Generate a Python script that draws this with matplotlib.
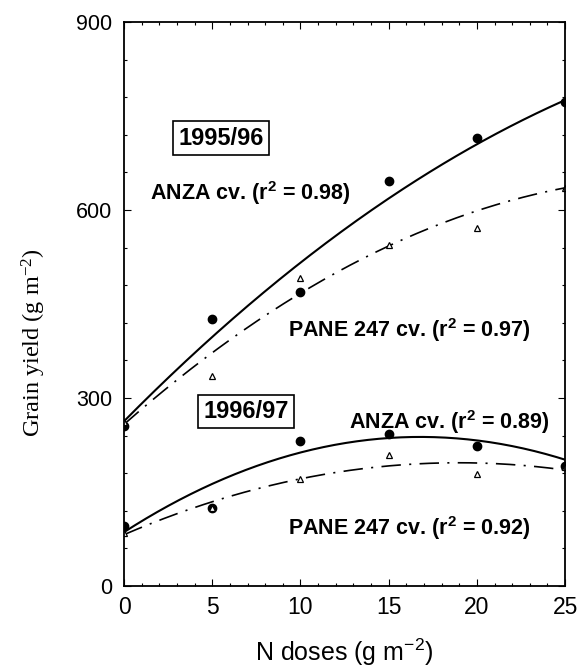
import numpy as np
import matplotlib
matplotlib.use('Agg')
import matplotlib.pyplot as plt
from matplotlib.ticker import MultipleLocator

plt.rcParams['font.family'] = ['Liberation Sans', 'DejaVu Sans']
plt.rcParams['mathtext.default'] = 'regular'
plt.rcParams['lines.scale_dashes'] = False

# N doses (g m-2)
doses = [0, 5, 10, 15, 20, 25]

# grain yield (g m-2)
anza_9596 = [256, 426, 469, 646, 715, 772]
pane_9596 = [262, 335, 492, 545, 571, 635]
anza_9697 = [96, 124, 231, 243, 223, 191]
pane_9697 = [84, 125, 171, 209, 179, 190]

# fitted quadratic curves y = a + b*x + c*x^2 (a, b, c)
fit_anza_9596 = [263, 28.5, -0.32]
fit_pane_9596 = [258, 24.8, -0.388]
fit_anza_9697 = [86, 18.1, -0.539]
fit_pane_9697 = [82, 12.1, -0.319]

labels = ['ANZA cv. (r$^{2}$ = 0.98)', 'PANE 247 cv. (r$^{2}$ = 0.97)',
          'ANZA cv. (r$^{2}$ = 0.89)', 'PANE 247 cv. (r$^{2}$ = 0.92)']

fig = plt.figure(figsize=(5.85, 6.69), dpi=100)
ax = fig.add_axes([0.212, 0.124, 0.754, 0.843])

xs = np.linspace(0, 25, 200)
dashdot = (0, (14, 6, 1.5, 6))


def curve(coef):
    return coef[0] + coef[1] * xs + coef[2] * xs ** 2


# 1995/96
ax.plot(xs, curve(fit_anza_9596), color='black', lw=1.5)
ax.plot(xs, curve(fit_pane_9596), color='black', lw=1.2, linestyle=dashdot)
ax.plot(doses, anza_9596, 'o', color='black', ms=6)
ax.plot(doses, pane_9596, '^', mfc='white', mec='black', ms=4, mew=0.9)

# 1996/97
ax.plot(xs, curve(fit_anza_9697), color='black', lw=1.5)
ax.plot(xs, curve(fit_pane_9697), color='black', lw=1.2, linestyle=dashdot)
ax.plot(doses, anza_9697, 'o', color='black', ms=6)
ax.plot(doses, pane_9697, '^', mfc='white', mec='black', ms=4, mew=0.9)

box = dict(boxstyle='square,pad=0.22', fc='white', ec='black', lw=1.2)
ax.text(5.5, 715, '1995/96', fontsize=17, fontweight='bold', ha='center', va='center', bbox=box)
ax.text(6.9, 279, '1996/97', fontsize=17, fontweight='bold', ha='center', va='center', bbox=box)

ax.text(1.5, 627, labels[0], fontsize=15.5, fontweight='bold', va='center')
ax.text(9.3, 408, labels[1], fontsize=15.5, fontweight='bold', va='center')
ax.text(12.75, 262, labels[2], fontsize=15.5, fontweight='bold', va='center')
ax.text(9.3, 92, labels[3], fontsize=15.5, fontweight='bold', va='center')

ax.set_xlim(0, 25)
ax.set_ylim(0, 900)
ax.xaxis.set_major_locator(MultipleLocator(5))
ax.xaxis.set_minor_locator(MultipleLocator(1))
ax.yaxis.set_major_locator(MultipleLocator(300))
ax.yaxis.set_minor_locator(MultipleLocator(60))
ax.tick_params(which='both', direction='in', top=True, right=True, width=0.8)
ax.tick_params(which='major', length=5)
ax.tick_params(which='minor', length=2.5)
ax.tick_params(axis='x', labelsize=16.5, pad=7.5)
ax.tick_params(axis='y', labelsize=15.5, pad=8.5)
for s in ax.spines.values():
    s.set_linewidth(1.3)

ax.set_xlabel('N doses (g m$^{-2}$)', fontsize=18, labelpad=12)
ax.set_ylabel('Grain yield (g m$^{-2}$)', fontsize=17.5, family='Liberation Serif')
ax.yaxis.set_label_coords(-0.172, 0.431)

fig.savefig('out.png', dpi=100)
